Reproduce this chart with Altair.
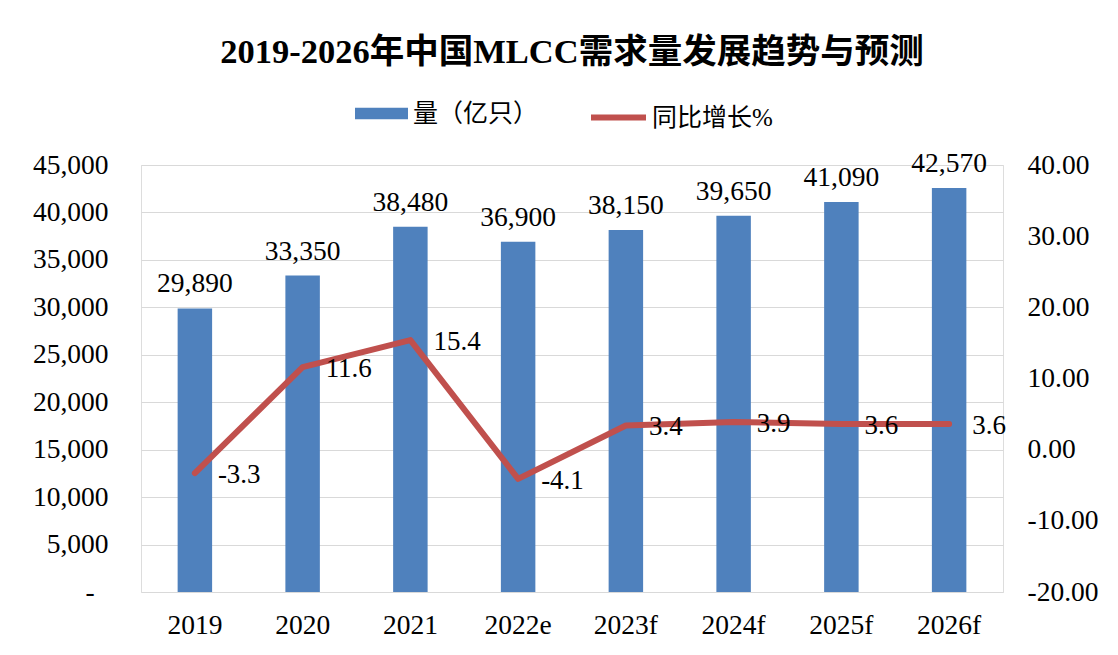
import altair as alt
import pandas as pd

years = ["2019", "2020", "2021", "2022e", "2023f", "2024f", "2025f", "2026f"]
volume = [29890, 33350, 38480, 36900, 38150, 39650, 41090, 42570]
growth = [-3.3, 11.6, 15.4, -4.1, 3.4, 3.9, 3.6, 3.6]
bar_name = "量（亿只）"
line_name = "同比增长%"
left_ticks = [0, 5000, 10000, 15000, 20000, 25000, 30000, 35000, 40000, 45000]
right_ticks = [-20, -10, 0, 10, 20, 30, 40]

df = pd.DataFrame({"year": years, "volume": volume, "growth": growth,
                   "s1": bar_name, "s2": line_name})
df["glabel"] = [f"{g:.1f}" for g in growth]

FONT = "Liberation Serif, Noto Sans CJK SC"
BLUE = "#4F81BD"
RED = "#C0504D"
FS = 27.5

x_enc = alt.X("year:N", sort=years, title=None,
              scale=alt.Scale(paddingInner=0.68, paddingOuter=0.34),
              axis=alt.Axis(labelFont=FONT, labelFontSize=FS, labelColor="#000000",
                            labelBaseline="alphabetic", labelPadding=41, tickSize=0,
                            ticks=False, domain=False, labelAngle=0))

base = alt.Chart(df)

bars = base.mark_bar(color=BLUE).encode(
    x=x_enc,
    y=alt.Y("volume:Q", title=None,
            scale=alt.Scale(domain=[0, 45000], nice=False),
            axis=alt.Axis(values=left_ticks, labelFont=FONT, labelFontSize=FS,
                          labelColor="#000000", labelPadding=33, ticks=False, tickSize=0,
                          domain=False, grid=True, gridColor="#D9D9D9", gridWidth=1,
                          labelExpr="datum.value == 0 ? '-\u2002\u200b' : format(datum.value, ',')")),
    color=alt.Color("s1:N", scale=alt.Scale(domain=[bar_name], range=[BLUE]),
                    legend=alt.Legend(title=None, orient="none", legendX=214, legendY=-78,
                                      symbolType="M-1,-0.22H1V0.22H-1Z", symbolSize=2809,
                                      symbolStrokeWidth=0, labelFont=FONT, labelFontSize=25,
                                      labelColor="#000000", labelOffset=5)),
)

bar_text = base.mark_text(font=FONT, fontSize=FS, baseline="alphabetic", dy=-16,
                          color="#000000").encode(
    x=alt.X("year:N", sort=years),
    y=alt.Y("volume:Q"),
    text=alt.Text("volume:Q", format=","),
)

line = base.mark_line(color=RED, strokeWidth=6, strokeCap="round", strokeJoin="round").encode(
    x=alt.X("year:N", sort=years),
    y=alt.Y("growth:Q", title=None,
            scale=alt.Scale(domain=[-20, 40], nice=False),
            axis=alt.Axis(orient="right", values=right_ticks, labelFont=FONT,
                          labelExpr="replace(format(datum.value, '.2f'), '\u2212', '-')",
                          labelFontSize=FS, labelColor="#000000", labelPadding=24,
                          ticks=False, tickSize=0, domain=False, grid=False)),
    stroke=alt.Stroke("s2:N", scale=alt.Scale(domain=[line_name], range=[RED]),
                      legend=alt.Legend(title=None, orient="none", legendX=447, legendY=-78,
                                        symbolType="stroke", symbolSize=3025,
                                        symbolStrokeWidth=6, labelFont=FONT, labelFontSize=25,
                                        labelColor="#000000", labelOffset=3)),
)

line_text = base.mark_text(font=FONT, fontSize=27, baseline="alphabetic", align="left",
                           dx=23, dy=10, color="#000000").encode(
    x=alt.X("year:N", sort=years),
    y=alt.Y("growth:Q"),
    text=alt.Text("glabel:N"),
)

chart = alt.layer(
    alt.layer(bars, bar_text),
    alt.layer(line, line_text),
).resolve_scale(y="independent").properties(
    width=862,
    height=427,
    autosize=alt.AutoSizeParams(type="none"),
    padding={"left": 133, "top": 157, "right": 107, "bottom": 50},
    title=alt.TitleParams("2019-2026年中国MLCC需求量发展趋势与预测", font=FONT,
                          fontSize=34.5, fontWeight="bold", color="#000000",
                          anchor="middle", baseline="alphabetic", offset=-10),
).configure_view(stroke=None).configure(background="white")

chart.save("out.html", embed_options={"renderer": "svg", "actions": False})
